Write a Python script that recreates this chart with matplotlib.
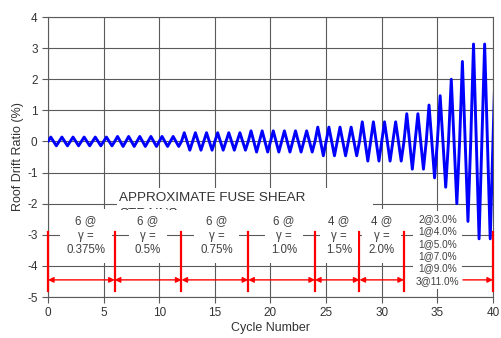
import numpy as np
import matplotlib
matplotlib.use("Agg")
import matplotlib.pyplot as plt
from matplotlib.patches import Rectangle

plt.rcParams["font.family"] = ["Liberation Sans", "DejaVu Sans"]
plt.rcParams["axes.unicode_minus"] = False

# loading protocol: cycles per step and roof drift amplitude (%)
group_cycles = [6, 6, 6, 6, 4, 4, 2, 1, 1, 1, 1, 3]
roof_amp = [0.14, 0.16, 0.28, 0.34, 0.46, 0.63, 0.89, 1.17, 1.47, 2.0, 2.57, 3.13]

# annotation of fuse shear strain steps
segment_edges = [0, 6, 12, 18, 24, 28, 32, 40]
step_labels = ["6 @\nγ =\n0.375%", "6 @\nγ =\n0.5%", "6 @\nγ =\n0.75%",
               "6 @\nγ =\n1.0%", "4 @\nγ =\n1.5%", "4 @\nγ =\n2.0%"]
step_label_x = [3.4, 9.0, 15.15, 21.2, 26.15, 30.0]
last_label = "2@3.0%\n1@4.0%\n1@5.0%\n1@7.0%\n1@9.0%\n3@11.0%"
last_label_x = 35.0

# build the triangular drift history
t, d = [0.0], [0.0]
c0 = 0
for n, a in zip(group_cycles, roof_amp):
    for k in range(n):
        c = c0 + k
        t += [c + 0.25, c + 0.75, c + 1.0]
        d += [a, -a, 0.0]
    c0 += n
t = np.array(t)
d = np.array(d)

fig = plt.figure(figsize=(5.01, 3.38), dpi=100)
ax = fig.add_axes([0.0958, 0.1213, 0.8882, 0.8284])

GRID = "#5a5a5a"
TXT = "#404040"

ax.set_xlim(0, 40)
ax.set_ylim(-5, 4)
ax.set_xticks(np.arange(0, 41, 5))
ax.set_yticks(np.arange(-5, 5, 1))
ax.grid(True, color=GRID, linewidth=0.8)
ax.set_axisbelow(True)
for s in ax.spines.values():
    s.set_color(GRID)
    s.set_linewidth(0.8)
ax.tick_params(colors=GRID, labelcolor="#333333", labelsize=8.5, length=4, width=0.8)
ax.set_xlabel("Cycle Number", fontsize=9, color="#333333", labelpad=2)
ax.set_ylabel("Roof Drift Ratio (%)", fontsize=9, color="#333333", labelpad=2)

ax.plot(t, d, color="#0000ff", linewidth=2.1, zorder=3,
        solid_joinstyle="round", solid_capstyle="round")

# approximate fuse shear strains title box (second line is mostly tucked
# behind the step labels, like in the original)
ax.add_patch(Rectangle((6.2, -2.7), 23.0, 1.2, facecolor="white", edgecolor="none", zorder=4))
ax.text(6.4, -1.64, "APPROXIMATE FUSE SHEAR\nSTRAINS", fontsize=9.7, color="#333333",
        ha="left", va="top", linespacing=1.4, zorder=5)
ax.add_patch(Rectangle((6.2, -2.75), 23.0, 0.55, facecolor="white", edgecolor="none", zorder=6))

# red step boundaries and arrows
for x in segment_edges:
    ax.plot([x, x], [-2.9, -4.8], color="#ff0000", linewidth=1.6, zorder=7, clip_on=False)
for x0, x1 in zip(segment_edges[:-2], segment_edges[1:-1]):
    ax.annotate("", xy=(x1, -4.45), xytext=(x0, -4.45),
                arrowprops=dict(arrowstyle="<|-|>", color="#ff0000", lw=1.0,
                                mutation_scale=8, shrinkA=0, shrinkB=0), zorder=6)
ax.annotate("", xy=(segment_edges[-1], -4.45), xytext=(37.3, -4.45),
            arrowprops=dict(arrowstyle="-|>", color="#ff0000", lw=1.0,
                            mutation_scale=8, shrinkA=0, shrinkB=0), zorder=6)

for lab, x in zip(step_labels, step_label_x):
    ax.text(x, -3.03, lab, fontsize=8.3, color=TXT, ha="center", va="center",
            linespacing=1.3, zorder=8,
            bbox=dict(facecolor="white", edgecolor="none", pad=4.5))
ax.text(last_label_x, -3.49, last_label, fontsize=7.2, color=TXT, ha="center", va="center",
        linespacing=1.3, zorder=8,
        bbox=dict(facecolor="white", edgecolor="none", pad=2.0))

fig.savefig("out.png", dpi=100)
